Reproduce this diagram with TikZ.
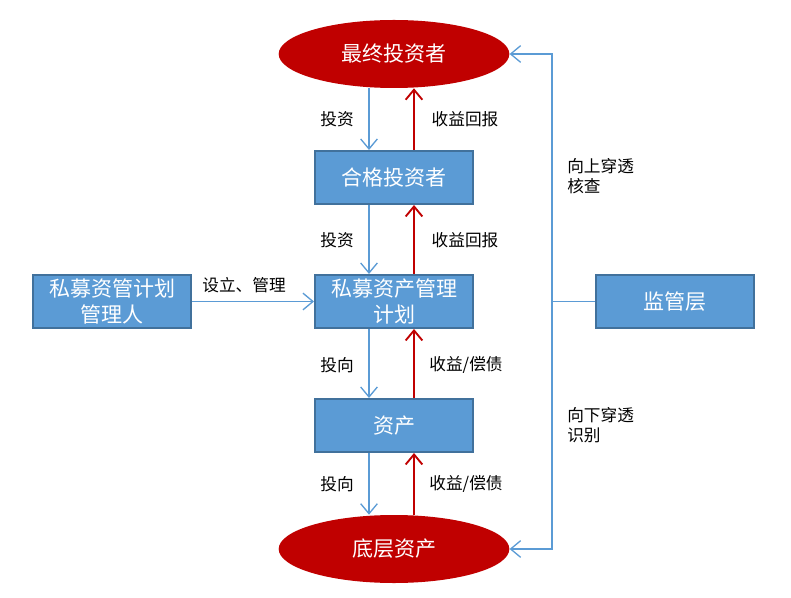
\documentclass[tikz,border=0pt]{standalone}
\usepackage{fontspec}
\newfontfamily\cjk{Noto Sans CJK SC}
\usetikzlibrary{shapes.geometric,arrows.meta}
\definecolor{boxblue}{HTML}{5B9BD5}
\definecolor{edgeblue}{HTML}{41719C}
\definecolor{darkred}{HTML}{C00000}
\begin{document}
\begin{tikzpicture}[x=0.75pt,y=-0.75pt,
  box/.style={draw=edgeblue,line width=1.5pt,fill=boxblue,text=white,minimum width=118.5pt,minimum height=39.75pt,inner sep=0pt,align=center,font=\cjk\fontsize{15.75}{19.5}\selectfont},
  oval/.style={ellipse,fill=darkred,text=white,minimum width=173pt,minimum height=51pt,inner sep=0pt,font=\cjk\fontsize{15.75}{19.5}\selectfont},
  lbl/.style={font=\cjk\fontsize{12.5}{15}\selectfont,inner sep=0pt},
  down/.style={draw=boxblue,line width=1pt,-{Straight Barb[length=7.5pt,width=12.5pt]}},
  up/.style={draw=darkred,line width=1.4pt,-{Straight Barb[length=7.5pt,width=12.5pt]}}]
\useasboundingbox (0,0) rectangle (791,598);
% shapes
\draw(394,54) node[oval] (fin) {最终投资者};
\draw(394,177.5) node[box] (qual) {合格投资者};
\draw(394,301.5) node[box] (plan) {私募资产管理\\计划};
\draw(394,425.5) node[box] (asset) {资产};
\draw(394,549) node[oval] (base) {底层资产};
\draw(112,301.5) node[box] (mgr) {私募资管计划\\管理人};
\draw(675,301.5) node[box] (reg) {监管层};
\coordinate (turn) at (552,301.5);
% labels
\draw(337,119) node[lbl] (l1) {投资};
\draw(465,119) node[lbl] (r1) {收益回报};
\draw(337,240) node[lbl] (l2) {投资};
\draw(465,240) node[lbl] (r2) {收益回报};
\draw(337,365) node[lbl] (l3) {投向};
\draw(466,365) node[lbl] (r3) {收益/偿债};
\draw(337,484) node[lbl] (l4) {投向};
\draw(466,484) node[lbl] (r4) {收益/偿债};
\draw(244,285) node[lbl] (set) {设立、管理};
\draw(567,176.5) node[lbl,anchor=west,align=left] (upck) {向上穿透\\核查};
\draw(567,425) node[lbl,anchor=west,align=left] (dnck) {向下穿透\\识别};
% arrows
\foreach \a/\b in {fin/qual,qual/plan,plan/asset,asset/base} {
  \draw[down] ([xshift=-18.75pt]\a.south) -- ([xshift=-18.75pt]\b.north);
  \draw[up] ([xshift=15pt]\b.north) -- ([xshift=15pt]\a.south);
}
\draw[down] (mgr) -- (plan);
\draw[down] (reg.west) -- (turn) |- (fin.east);
\draw[down] (turn) |- (base.east);
\end{tikzpicture}
\end{document}
